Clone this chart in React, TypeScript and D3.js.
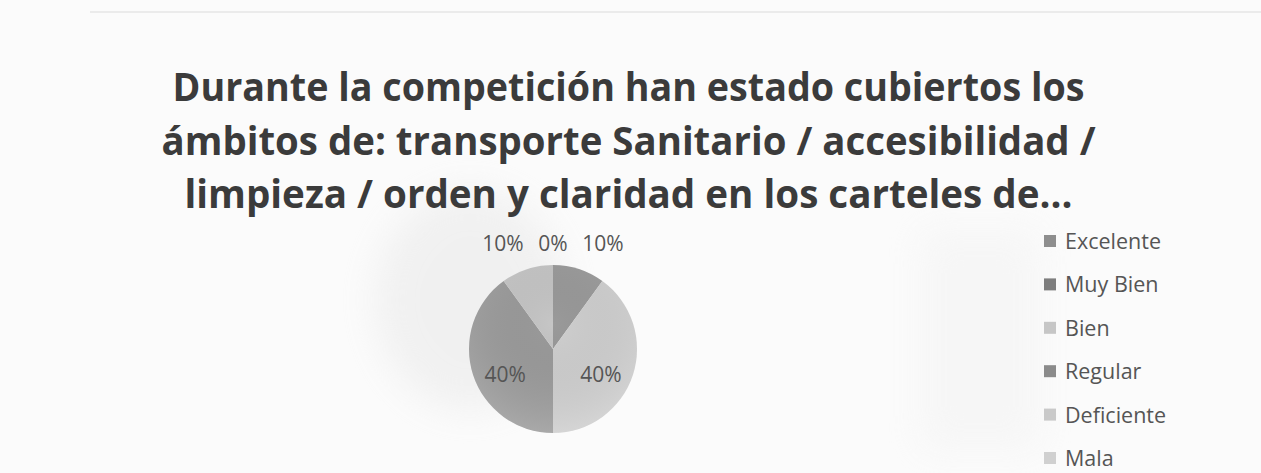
import React from "react"
import * as d3 from "d3"

// chart data
const titleLines = [
  "Durante la competición han estado cubiertos los",
  "ámbitos de: transporte Sanitario / accesibilidad /",
  "limpieza / orden y claridad en los carteles de...",
]
const categories = ["Excelente", "Muy Bien", "Bien", "Regular", "Deficiente", "Mala"]
const values = [10, 0, 40, 40, 10, 0]
const sliceColors = ["#9a9a9a", "#808080", "#d0d0d0", "#9b9b9b", "#c6c6c6", "#cdcdcd"]
const legendColors = ["#8e8e8e", "#7e7e7e", "#c6c6c6", "#8b8b8b", "#c9c9c9", "#d0d0d0"]

const W = 1261
const H = 473
const FONT = "'Open Sans', 'Noto Sans', sans-serif"

const App = () => {
  const cx = 553
  const cy = 349
  const R = 84

  const pie = d3.pie<number>().sort(null).value(d => d)
  const arcs = pie(values)
  const arc = d3.arc<d3.PieArcDatum<number>>().innerRadius(0).outerRadius(R)
  const labelArc = d3.arc<d3.PieArcDatum<number>>().innerRadius(R * 0.6).outerRadius(R * 0.6)
  const total = d3.sum(values)
  const fmt = (v: number) => d3.format(".0%")(v / total)

  // small slices: labels above the pie. zero slices only keep the one sitting at the top
  const TAU = Math.PI * 2
  const outer = arcs
    .map((a, i) => ({ a, i, mid: (a.startAngle + a.endAngle) / 2 }))
    .filter(d => d.a.value < 20)
    .filter(d => d.a.value > 0 || Math.abs(d.mid - TAU) < 1e-6 || d.mid < 1e-6)
  const spread = d3.scaleLinear().domain([-1, 1]).range([cx - 50, cx + 50])
  const outerX = (d: { a: d3.PieArcDatum<number>; mid: number }) => {
    if (d.a.value === 0) return cx
    return spread(Math.sin(d.mid) > 0 ? 1 : -1)
  }

  const legendY = d3.scaleLinear().domain([0, categories.length - 1]).range([241, 458])

  return (
    <svg width={W} height={H} style={{ position: "fixed", left: 0, top: 0, display: "block" }}>
      <defs>
        <filter id="blur" x="-50%" y="-50%" width="200%" height="200%">
          <feGaussianBlur stdDeviation="18" />
        </filter>
        <radialGradient id="shade" cx="50%" cy="35%" r="70%">
          <stop offset="0%" stopColor="#000" stopOpacity="0" />
          <stop offset="100%" stopColor="#fff" stopOpacity="0.18" />
        </radialGradient>
      </defs>
      <rect width={W} height={H} fill="#fbfbfb" />
      {/* ghost of the back page */}
      <g filter="url(#blur)" opacity={0.45}>
        <ellipse cx={470} cy={300} rx={95} ry={110} fill="#e4e4e4" />
        <rect x={920} y={230} width={120} height={220} fill="#f0f0f0" />
      </g>
      <line x1={90} x2={W} y1={12} y2={12} stroke="#e6e6e6" strokeWidth={1.5} />

      {titleLines.map((t, i) => (
        <text
          key={i}
          x={W / 2 - 2}
          y={101 + i * 53.5}
          textAnchor="middle"
          fontFamily={FONT}
          fontWeight={700}
          fontSize={39}
          fill="#3b3b3b"
          textLength={[912, 934, 888][i]}
          lengthAdjust="spacingAndGlyphs"
        >
          {t}
        </text>
      ))}

      <g transform={`translate(${cx},${cy})`}>
        {arcs.map((a, i) => (
          <path key={i} d={arc(a) || ""} fill={sliceColors[i]} />
        ))}
        <circle r={R} fill="url(#shade)" />
      </g>

      {arcs
        .filter(a => a.value >= 20)
        .map((a, i) => {
          const [x, y] = labelArc.centroid(a)
          return (
            <text
              key={"in" + i}
              x={cx + x}
              y={cy + y + 17}
              textAnchor="middle"
              fontFamily={FONT}
              fontSize={21}
              fill="#555"
            >
              {fmt(a.value)}
            </text>
          )
        })}

      {outer.map(d => (
        <text
          key={"out" + d.i}
          x={outerX(d)}
          y={251}
          textAnchor="middle"
          fontFamily={FONT}
          fontSize={21}
          fill="#555"
        >
          {fmt(d.a.value)}
        </text>
      ))}

      {categories.map((c, i) => (
        <g key={c} transform={`translate(1044,${legendY(i)})`}>
          <rect x={0} y={-6} width={12} height={12} fill={legendColors[i]} />
          <text x={21} y={8} fontFamily={FONT} fontSize={21.5} fill="#555">
            {c}
          </text>
        </g>
      ))}
    </svg>
  )
}

export default App
